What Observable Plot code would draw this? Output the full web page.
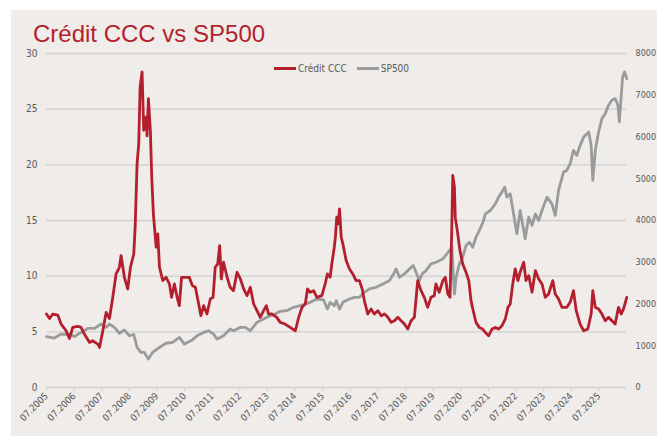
<!DOCTYPE html>
<html>
<head>
<meta charset="utf-8">
<script src="https://cdn.jsdelivr.net/npm/d3@7"></script>
<script src="https://cdn.jsdelivr.net/npm/@observablehq/plot@0.6"></script>
<style>
  html, body { margin: 0; padding: 0; background: #ffffff; }
  #wrap { position: relative; width: 657px; height: 436px; overflow: hidden; background: #ffffff; }
  #panel { position: absolute; left: 11px; top: 10px; right: 0; bottom: 0; background: #efecea; }
  #title { position: absolute; left: 33px; top: 22px; font-family: "Liberation Sans", Arial, sans-serif; font-size: 24px; line-height: 24px; color: #b41f2e; white-space: nowrap; }
  #legend { position: absolute; left: 274px; top: 63px; font-family: "Liberation Sans Narrow", "DejaVu Sans Condensed", sans-serif; font-size: 10px; color: #595959; display: flex; align-items: center; white-space: nowrap; }
  #legend .sw { display: inline-block; width: 22px; height: 3px; margin-right: 2px; }
  #legend .item { display: flex; align-items: center; margin-right: 10px; }
  #chart { position: absolute; left: 0; top: 0; }
  #chart svg { overflow: visible; }
</style>
</head>
<body>
<div id="wrap">
  <div id="panel"></div>
  <div id="chart"></div>
  <div id="title">Crédit CCC vs SP500</div>
  <div id="legend"></div>
</div>
<script>
// ---- Data (decimal years) ----
const seriesNames = ["Crédit CCC", "SP500"];
const seriesColors = ["#b41f2e", "#9a9c9c"];

const cccYears = [2005.50,2005.61,2005.73,2005.91,2006.03,2006.21,2006.33,2006.45,2006.63,2006.75,2006.87,2007.06,2007.17,2007.36,2007.42,2007.54,2007.66,2007.78,2007.90,2008.02,2008.14,2008.20,2008.32,2008.44,2008.54,2008.66,2008.71,2008.78,2008.84,2008.89,2008.96,2009.02,2009.11,2009.14,2009.19,2009.26,2009.31,2009.37,2009.47,2009.53,2009.59,2009.71,2009.83,2009.95,2010.03,2010.13,2010.23,2010.31,2010.39,2010.55,2010.67,2010.78,2010.89,2011.01,2011.09,2011.19,2011.31,2011.43,2011.53,2011.61,2011.70,2011.77,2011.83,2011.91,2012.04,2012.15,2012.27,2012.40,2012.52,2012.64,2012.76,2012.88,2013.00,2013.12,2013.24,2013.36,2013.46,2013.54,2013.66,2013.84,2013.96,2014.14,2014.32,2014.51,2014.63,2014.75,2014.87,2014.95,2015.05,2015.17,2015.29,2015.47,2015.59,2015.67,2015.77,2015.83,2015.92,2015.96,2016.01,2016.06,2016.11,2016.17,2016.23,2016.35,2016.47,2016.59,2016.71,2016.83,2016.93,2017.01,2017.13,2017.25,2017.37,2017.50,2017.62,2017.74,2017.86,2017.98,2018.10,2018.22,2018.34,2018.46,2018.58,2018.70,2018.82,2018.94,2019.06,2019.18,2019.30,2019.42,2019.54,2019.60,2019.72,2019.85,2019.94,2020.03,2020.11,2020.17,2020.21,2020.27,2020.30,2020.39,2020.47,2020.57,2020.69,2020.79,2020.87,2020.95,2021.05,2021.17,2021.29,2021.39,2021.51,2021.63,2021.75,2021.87,2021.99,2022.11,2022.21,2022.29,2022.38,2022.47,2022.57,2022.65,2022.78,2022.86,2022.96,2023.08,2023.20,2023.32,2023.44,2023.56,2023.68,2023.83,2023.92,2024.04,2024.16,2024.34,2024.46,2024.58,2024.68,2024.82,2024.95,2025.10,2025.22,2025.28,2025.37,2025.49,2025.61,2025.73,2025.85,2025.97,2026.09,2026.21,2026.31,2026.39,2026.51];
const cccValues = [6.6,6.2,6.6,6.5,5.7,5.1,4.4,5.4,5.5,5.4,4.8,4.05,4.2,3.9,3.6,5.1,6.75,6.2,8.1,10.2,10.8,11.85,9.9,8.85,10.8,12.0,14.4,20.1,21.9,27.0,28.35,23.1,24.3,22.6,25.95,23.1,18.9,15.6,12.6,13.8,10.8,9.6,9.9,9.3,8.1,9.3,8.1,7.35,9.9,9.9,9.9,9.15,9.0,7.5,6.45,7.35,6.6,7.95,8.1,10.8,11.1,12.75,9.75,11.25,9.9,9.0,8.7,10.35,9.75,8.85,8.25,9.0,7.5,6.9,6.3,6.9,7.35,6.6,6.6,6.3,5.85,5.7,5.4,5.1,6.3,7.2,7.5,8.85,8.55,8.7,8.1,8.25,9.3,10.2,9.9,11.1,12.6,13.5,15.3,14.7,16.05,13.5,12.9,11.4,10.65,10.2,9.6,9.6,8.85,7.8,6.6,7.05,6.6,6.9,6.45,6.6,6.3,5.85,6.0,6.3,6.0,5.7,5.25,6.0,6.3,9.6,8.7,8.1,7.2,8.1,8.25,9.3,8.55,9.6,9.9,8.4,8.1,13.8,19.05,18.0,15.3,13.8,12.3,11.1,10.35,9.6,7.8,6.9,5.85,5.4,5.25,4.95,4.65,5.25,5.4,5.25,5.55,6.15,7.2,7.5,9.3,10.65,9.6,10.35,11.25,9.6,10.05,8.55,10.5,9.75,9.3,8.1,8.4,9.6,8.4,7.95,7.2,7.2,7.65,8.7,6.9,5.7,5.1,5.25,6.6,8.7,7.2,7.05,6.6,6.0,6.3,6.0,5.7,7.2,6.6,7.05,8.1];

const spYears = [2005.50,2005.79,2006.03,2006.39,2006.51,2006.75,2006.99,2007.24,2007.48,2007.66,2007.78,2007.96,2008.14,2008.32,2008.50,2008.66,2008.78,2008.92,2009.04,2009.19,2009.34,2009.59,2009.83,2010.07,2010.31,2010.49,2010.78,2010.95,2011.19,2011.37,2011.55,2011.67,2011.79,2011.91,2012.15,2012.27,2012.52,2012.70,2012.88,2013.12,2013.36,2013.60,2013.78,2013.96,2014.20,2014.44,2014.69,2014.87,2015.05,2015.29,2015.53,2015.67,2015.77,2015.92,2015.99,2016.11,2016.23,2016.47,2016.65,2016.83,2017.01,2017.19,2017.43,2017.68,2017.92,2018.10,2018.16,2018.28,2018.46,2018.64,2018.78,2018.88,2019.00,2019.10,2019.24,2019.42,2019.60,2019.85,2020.09,2020.18,2020.21,2020.27,2020.33,2020.45,2020.57,2020.69,2020.81,2020.93,2021.05,2021.17,2021.30,2021.39,2021.57,2021.75,2021.87,2021.99,2022.09,2022.17,2022.29,2022.41,2022.53,2022.65,2022.78,2022.83,2022.96,2023.08,2023.20,2023.32,2023.44,2023.62,2023.80,2023.92,2024.04,2024.22,2024.34,2024.46,2024.58,2024.70,2024.82,2024.95,2025.13,2025.22,2025.28,2025.37,2025.49,2025.61,2025.73,2025.85,2025.97,2026.09,2026.19,2026.24,2026.31,2026.36,2026.43,2026.51];
const spValues = [1217,1185,1280,1270,1220,1320,1415,1415,1520,1440,1520,1440,1300,1380,1240,1270,960,840,840,680,840,960,1060,1080,1200,1040,1140,1240,1320,1360,1280,1160,1200,1240,1400,1360,1440,1440,1360,1560,1640,1720,1760,1825,1840,1920,1960,2000,2040,2120,2100,1880,2040,1960,2080,1880,2040,2120,2160,2160,2280,2360,2400,2480,2560,2760,2840,2640,2720,2840,2920,2760,2560,2720,2800,2960,3000,3080,3280,3360,2880,2240,2640,2960,3120,3400,3480,3360,3600,3760,3950,4160,4240,4400,4560,4680,4800,4560,4640,4160,3680,4240,3760,3560,4080,3880,4160,4000,4240,4560,4400,4120,4720,5160,5200,5360,5680,5560,5800,6000,6120,5800,4960,5680,6120,6440,6560,6760,6880,6920,6760,6360,7000,7440,7560,7400];

const leftTicks = [0, 5, 10, 15, 20, 25, 30];
const rightTicks = [0, 1000, 2000, 3000, 4000, 5000, 6000, 7000, 8000];
const xTickYears = [2005.5,2006.5,2007.5,2008.5,2009.5,2010.5,2011.5,2012.5,2013.5,2014.5,2015.5,2016.5,2017.5,2018.5,2019.5,2020.5,2021.5,2022.5,2023.5,2024.5,2025.5];
const xTickLabels = ["07.2005","07.2006","07.2007","07.2008","07.2009","07.2010","07.2011","07.2012","07.2013","07.2014","07.2015","07.2016","07.2017","07.2018","07.2019","07.2020","07.2021","07.2022","07.2023","07.2024","07.2025"];

// ---- Build ----
const leftMax = 30, rightMax = 8000;
const toLeft = v => v * leftMax / rightMax;
const ccc = cccYears.map((t, i) => ({t, v: cccValues[i]}));
const sp = spYears.map((t, i) => ({t, v: spValues[i]}));
const xLabelMap = new Map(xTickYears.map((y, i) => [y, xTickLabels[i]]));

const chart = Plot.plot({
  width: 657,
  height: 436,
  marginLeft: 46,
  marginRight: 31,
  marginTop: 53,
  marginBottom: 49,
  style: {background: "transparent", fontFamily: "'Liberation Sans Narrow', 'DejaVu Sans Condensed', sans-serif", fontSize: "10px", color: "#595959", overflow: "visible"},
  x: {type: "linear", domain: [2005.5, 2026.5]},
  y: {domain: [0, leftMax]},
  marks: [
    Plot.gridY(leftTicks, {stroke: "#cfcfcf", strokeOpacity: 1, strokeWidth: 1.3}),
    Plot.axisY(leftTicks, {anchor: "left", tickSize: 0, tickPadding: 9, label: null, fill: "#595959"}),
    Plot.axisY(rightTicks.map(toLeft), {anchor: "right", tickSize: 0, tickPadding: 9, label: null, fill: "#595959", fontSize: 9,
      tickFormat: d => String(Math.round(d * rightMax / leftMax))}),
    Plot.axisX(xTickYears, {anchor: "bottom", tickSize: 4, tickPadding: 3, tickRotate: -45, label: null,
      stroke: "#cfcfcf", fill: "#595959", fontSize: 9.5, tickFormat: d => xLabelMap.get(d)}),
    Plot.line(sp, {x: "t", y: d => toLeft(d.v), stroke: seriesColors[1], strokeWidth: 2.8, strokeLinejoin: "round"}),
    Plot.line(ccc, {x: "t", y: "v", stroke: seriesColors[0], strokeWidth: 2.8, strokeLinejoin: "round"})
  ]
});
document.getElementById("chart").appendChild(chart);

const legend = document.getElementById("legend");
seriesNames.forEach((name, i) => {
  const item = document.createElement("span");
  item.className = "item";
  const sw = document.createElement("span");
  sw.className = "sw";
  sw.style.background = seriesColors[i];
  item.appendChild(sw);
  item.appendChild(document.createTextNode(name));
  legend.appendChild(item);
});
</script>
</body>
</html>
